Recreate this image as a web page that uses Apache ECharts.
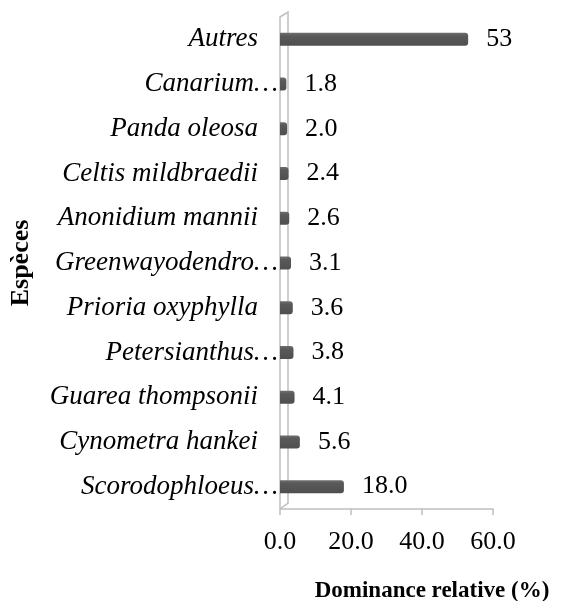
<!DOCTYPE html>
<html>
<head>
<meta charset="utf-8">
<script src="https://cdn.jsdelivr.net/npm/echarts@6/dist/echarts.min.js"></script>
<style>
  html, body { margin: 0; padding: 0; background: #fff; }
  #chart { width: 567px; height: 601px; }
</style>
</head>
<body>
<div id="chart"></div>
<script>
// species, top to bottom as in the figure
const species = [
  'Autres', 'Canarium…', 'Panda oleosa', 'Celtis mildbraedii', 'Anonidium mannii',
  'Greenwayodendro…', 'Prioria oxyphylla', 'Petersianthus…', 'Guarea thompsonii',
  'Cynometra hankei', 'Scorodophloeus…'
];
const dominance = [53, 1.8, 2.0, 2.4, 2.6, 3.1, 3.6, 3.8, 4.1, 5.6, 18.0];
const valueLabels = ['53', '1.8', '2.0', '2.4', '2.6', '3.1', '3.6', '3.8', '4.1', '5.6', '18.0'];
const xTicks = ['0.0', '20.0', '40.0', '60.0'];

const serif = '"Liberation Serif", "Times New Roman", serif';
const grid = { left: 280, right: 74, top: 17, bottom: 92 };
const wallDepth = 8;
const wallColor = '#bfbfbf';

const chart = echarts.init(document.getElementById('chart'));

const W = 567, H = 601;
const x0 = grid.left, yTop = grid.top, yBot = H - grid.bottom;

chart.setOption({
  animation: false,
  grid: grid,
  title: {
    text: 'Dominance relative (%)',
    left: 427, top: 575, textAlign: 'center',
    textStyle: { fontFamily: serif, fontWeight: 'bold', fontSize: 23, color: '#000' }
  },
  xAxis: {
    type: 'value',
    min: 0, max: 60, interval: 20,
    splitLine: { show: false },
    axisLine: { show: true, lineStyle: { color: wallColor, width: 1.5 } },
    axisTick: { show: true, length: 6, lineStyle: { color: wallColor, width: 1.5 } },
    axisLabel: {
      margin: 20, color: '#000', fontFamily: serif, fontSize: 26,
      formatter: v => xTicks[Math.round(v / 20)]
    }
  },
  yAxis: {
    type: 'category',
    inverse: true,
    data: species,
    name: 'Espèces',
    nameLocation: 'middle',
    nameGap: 246,
    nameRotate: 90,
    nameTextStyle: { fontFamily: serif, fontWeight: 'bold', fontSize: 26, color: '#000' },
    axisLine: { show: true, lineStyle: { color: wallColor, width: 1.5 } },
    axisTick: { show: false },
    axisLabel: {
      margin: 2,
      formatter: v => v.endsWith('…') ? '{t|' + v + '}' : '{n|' + v + '}',
      rich: {
        n: { fontFamily: serif, fontStyle: 'italic', fontSize: 27, color: '#000', padding: [0, 20, 0, 0] },
        t: { fontFamily: serif, fontStyle: 'italic', fontSize: 27, color: '#000' }
      }
    }
  },
  graphic: [
    { type: 'polyline', silent: true,
      shape: { points: [[x0, yTop], [x0 + wallDepth, yTop - 5], [x0 + wallDepth, yBot - 6], [x0, yBot]] },
      style: { stroke: wallColor, lineWidth: 1.5, fill: null } }
  ],
  series: [{
    type: 'bar',
    data: dominance,
    barWidth: 13,
    itemStyle: {
      color: new echarts.graphic.LinearGradient(0, 0, 0, 1, [
        { offset: 0, color: '#6e6e6e' },
        { offset: 0.25, color: '#595959' },
        { offset: 1, color: '#4f4f4f' }
      ]),
      borderRadius: [0, 3, 3, 0]
    },
    label: {
      show: true, position: 'right', distance: 18,
      fontFamily: serif, fontSize: 26, color: '#000',
      formatter: p => valueLabels[p.dataIndex]
    }
  }]
});
</script>
</body>
</html>
